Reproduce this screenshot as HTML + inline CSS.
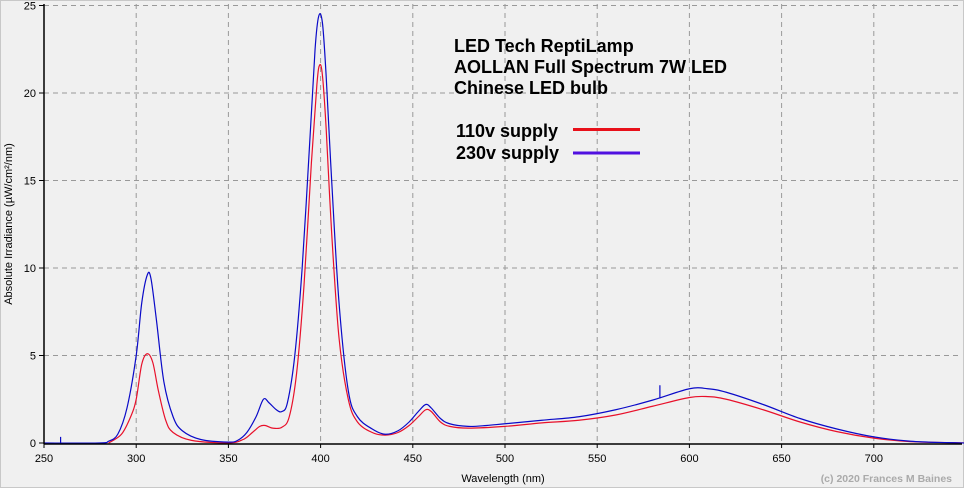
<!DOCTYPE html>
<html><head><meta charset="utf-8"><style>
body{margin:0;background:#f0f0f0;}
svg{display:block;font-family:"Liberation Sans",Arial,sans-serif;}
</style></head><body>
<svg id="s" width="964" height="488" viewBox="0 0 964 488">
<rect x="0" y="0" width="964" height="488" fill="#f0f0f0"/>
<rect x="0.5" y="0.5" width="963" height="487" fill="none" stroke="#c8c8c8"/>
<g id="grid" stroke="#999" stroke-dasharray="5,4" stroke-width="1"></g>
<g id="lbl" font-size="11" fill="#000"></g>
<path id="red" fill="none" stroke="#e8102a" stroke-width="1.2"/>
<path id="blue" fill="none" stroke="#0a0ac8" stroke-width="1.2"/>
<line x1="44" y1="4" x2="44" y2="444" stroke="#000" stroke-width="1.5"/>
<line x1="44" y1="444" x2="962" y2="444" stroke="#000" stroke-width="1.5"/>
<g font-weight="bold" font-size="18" fill="#000">
<text x="454" y="52">LED Tech ReptiLamp</text>
<text x="454" y="73">AOLLAN Full Spectrum 7W LED</text>
<text x="454" y="94">Chinese LED bulb</text>
<text x="456" y="137">110v supply</text>
<text x="456" y="159">230v supply</text>
</g>
<line x1="573" y1="129.5" x2="640" y2="129.5" stroke="#e8101a" stroke-width="3"/>
<line x1="573" y1="153" x2="640" y2="153" stroke="#5010e0" stroke-width="3"/>
<text x="503" y="482" font-size="11" text-anchor="middle">Wavelength (nm)</text>
<text transform="translate(12,224) rotate(-90)" font-size="11" text-anchor="middle">Absolute Irradiance (µW/cm²/nm)</text>
<text x="952" y="482" font-size="10.5" font-weight="bold" fill="#aaa" text-anchor="end">(c) 2020 Frances M Baines</text>
</svg>
<script>
var X=function(n){return 44+(n-250)*1.844},Y=function(v){return 443-v*17.5};
var ns="http://www.w3.org/2000/svg",S=document.getElementById('s'),g=document.getElementById('grid'),l=document.getElementById('lbl');
function el(p,t,a){var e=document.createElementNS(ns,t);for(var k in a)e.setAttribute(k,a[k]);p.appendChild(e);return e;}
for(var n=300;n<=700;n+=50){el(g,'line',{x1:X(n),y1:4,x2:X(n),y2:443});}
for(var v=5;v<=25;v+=5){el(g,'line',{x1:44,y1:Y(v),x2:962,y2:Y(v)});}
for(var n=250;n<=700;n+=50){el(S,'line',{x1:X(n),y1:444,x2:X(n),y2:448,stroke:'#000'});var t=el(l,'text',{x:X(n),y:462,'text-anchor':'middle'});t.textContent=n;}
for(var v=0;v<=25;v+=5){el(S,'line',{x1:39,y1:Y(v),x2:44,y2:Y(v),stroke:'#000'});var t=el(l,'text',{x:36,y:Y(v)+4,'text-anchor':'end'});t.textContent=v;}
var B=[[250,0],[280,0],[285,0.1],[290,0.5],[295,2],[300,5],[303,8],[306,9.6],[308,9.4],[311,7],[315,3.5],[320,1.5],[325,0.7],[335,0.2],[350,0.05],[355,0.15],[360,0.6],[365,1.5],[369,2.5],[372,2.3],[376,1.9],[379,1.8],[382,2.3],[386,5],[390,10],[394,17],[397,22.5],[399,24.4],[401,24],[403,21],[406,15],[410,8],[415,3],[420,1.5],[428,0.8],[435,0.5],[442,0.7],[448,1.2],[453,1.8],[457,2.2],[460,2.0],[465,1.4],[470,1.1],[480,0.95],[490,1.0],[500,1.1],[520,1.3],[540,1.5],[560,1.9],[580,2.45],[600,3.1],[610,3.1],[620,2.9],[640,2.2],[660,1.4],[680,0.8],[700,0.35],[720,0.1],[740,0.02],[750,0]];
var R=[[285,0],[292,0.5],[297,1.5],[300,2.5],[303,4.5],[306,5.1],[309,4.6],[312,3],[316,1.3],[320,0.6],[330,0.15],[350,0],[358,0.2],[363,0.6],[367,0.95],[370,1.0],[374,0.85],[379,0.9],[383,1.5],[387,4],[391,9],[395,16],[398,20.5],[399.5,21.6],[401,21],[403,18],[406,12],[410,6],[415,2.5],[420,1.2],[428,0.6],[435,0.45],[442,0.6],[448,1.0],[453,1.5],[457,1.9],[460,1.8],[465,1.2],[470,0.95],[480,0.85],[500,0.95],[520,1.15],[540,1.3],[560,1.6],[580,2.1],[600,2.6],[610,2.65],[620,2.5],[640,1.9],[660,1.2],[680,0.65],[700,0.28],[720,0.08],[750,0]];
function path(P){var p=P.map(function(a){return[X(a[0]),Y(a[1])]});var d='M'+p[0][0]+','+p[0][1];
for(var i=0;i<p.length-1;i++){var p0=p[i-1]||p[i],p1=p[i],p2=p[i+1],p3=p[i+2]||p2;
d+='C'+(p1[0]+(p2[0]-p0[0])/6)+','+(p1[1]+(p2[1]-p0[1])/6)+' '+(p2[0]-(p3[0]-p1[0])/6)+','+(p2[1]-(p3[1]-p1[1])/6)+' '+p2[0]+','+p2[1];}
return d;}
document.getElementById('red').setAttribute('d',path(R));
document.getElementById('blue').setAttribute('d',path(B));
el(S,'line',{x1:X(259),y1:Y(0),x2:X(259),y2:Y(0.35),stroke:'#0a0ac8','stroke-width':1.2});
el(S,'line',{x1:X(584),y1:Y(2.55),x2:X(584),y2:Y(3.3),stroke:'#0a0ac8','stroke-width':1.2});
</script>
</body></html>
